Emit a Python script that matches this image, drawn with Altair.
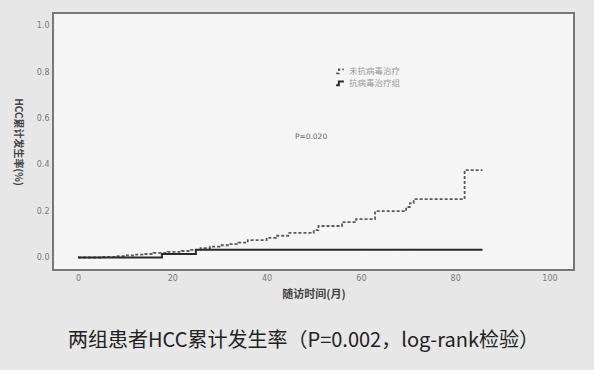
import altair as alt
import pandas as pd

# Untreated group (dashed) step curve
t_untreated = [0, 5, 8, 10, 12, 14, 16, 19, 22, 24, 26, 28, 30, 32, 34, 36, 40, 42, 44.6, 50, 51, 56, 59, 63, 69.6, 70.4, 71.2, 82, 85.8]
v_untreated = [0, 0.003, 0.006, 0.009, 0.012, 0.015, 0.02, 0.024, 0.028, 0.033, 0.04, 0.047, 0.053, 0.058, 0.064, 0.075, 0.085, 0.094, 0.106, 0.118, 0.136, 0.153, 0.166, 0.2, 0.218, 0.235, 0.252, 0.377, 0.377]

# Treated group (solid) step curve
t_treated = [0, 17.8, 25, 85.8]
v_treated = [0, 0.015, 0.034, 0.034]

groups = ["未抗病毒治疗", "抗病毒治疗组"]

x_ticks = [0, 20, 40, 60, 80, 100]
y_ticks = [0.0, 0.2, 0.4, 0.6, 0.8, 1.0]

p_text = "P=0.020"
p_pos = (46, 0.52)
caption = "两组患者HCC累计发生率（P=0.002，log-rank检验）"

rows = []
for t, v in zip(t_untreated, v_untreated):
    rows.append({"t": t, "v": v, "g": groups[0]})
for t, v in zip(t_treated, v_treated):
    rows.append({"t": t, "v": v, "g": groups[1]})
df = pd.DataFrame(rows)

xscale = alt.Scale(domain=[-5.3, 105.2], nice=False, zero=False)
yscale = alt.Scale(domain=[-0.054, 1.056], nice=False, zero=False)

x_axis = alt.Axis(values=x_ticks, title="随访时间(月)", grid=False, domain=False, ticks=False,
                  labelFontSize=8, labelColor="#777", labelPadding=4, labelFont="DejaVu Sans",
                  titleFontSize=11, titleFontWeight="bold", titleColor="#444", titlePadding=6,
                  titleFont="Noto Sans CJK SC")
y_axis = alt.Axis(values=y_ticks, format=".1f", title="HCC累计发生率(%)", grid=False, domain=False, ticks=False,
                  labelFontSize=8, labelColor="#777", labelPadding=4, labelFont="DejaVu Sans",
                  titleFontSize=10, titleFontWeight="bold", titleColor="#444", titleAngle=90,
                  titlePadding=24, titleFont="Noto Sans CJK SC")

leg = alt.Legend(title=None, orient="none", legendX=282, legendY=53,
                 symbolType="M-1,0.6 H-0.3 V-0.4 H1",
                 symbolSize=60, symbolStrokeWidth=1.8,
                 labelFontSize=8.5, labelColor="#999", labelFont="Noto Sans CJK SC",
                 rowPadding=0, labelOffset=4)

lines = alt.Chart(df).mark_line(interpolate="step-after").encode(
    x=alt.X("t:Q", scale=xscale, axis=x_axis),
    y=alt.Y("v:Q", scale=yscale, axis=y_axis),
    color=alt.Color("g:N", sort=groups,
                    scale=alt.Scale(domain=groups, range=["#5a5a5a", "#2a2a2a"]),
                    legend=leg),
    strokeDash=alt.StrokeDash("g:N", sort=groups,
                              scale=alt.Scale(domain=groups, range=[[3, 2], [1, 0]]),
                              legend=leg),
    strokeWidth=alt.StrokeWidth("g:N", sort=groups,
                                scale=alt.Scale(domain=groups, range=[1.8, 2.0]), legend=None),
)

ptext = alt.Chart(pd.DataFrame({"t": [p_pos[0]], "v": [p_pos[1]], "s": [p_text]})).mark_text(
    align="left", baseline="middle", fontSize=7.5, color="#666", font="DejaVu Sans"
).encode(x=alt.X("t:Q", scale=xscale), y=alt.Y("v:Q", scale=yscale), text="s:N")

chart = alt.layer(lines, ptext).properties(
    width=521, height=257,
    padding={"left": 53, "top": 13, "right": 20, "bottom": 100},
    autosize=alt.AutoSizeParams(type="none"),
    background="#e7e7e7",
    title=alt.TitleParams(caption, orient="bottom", anchor="middle", fontSize=20,
                          font="Noto Sans CJK SC", fontWeight="normal", color="#222",
                          offset=32, dx=-10),
).configure_view(stroke="#777", strokeWidth=2, fill="#f5f5f5")

chart.save("out.html", embed_options={"renderer": "svg", "actions": False})
